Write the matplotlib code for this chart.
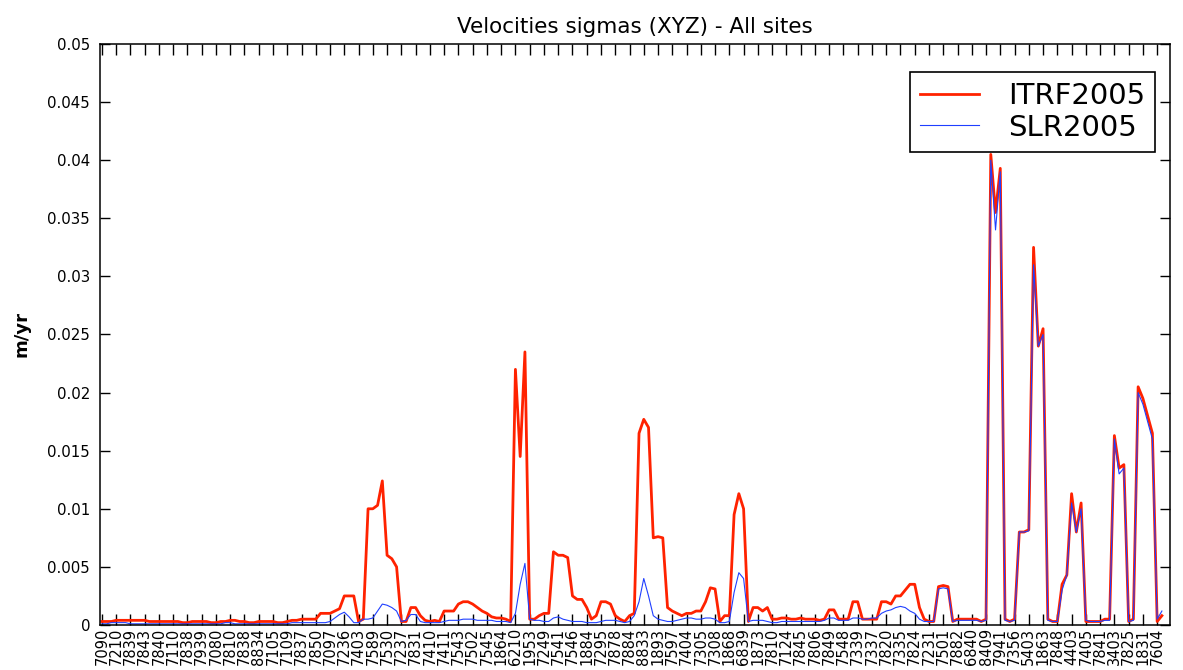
import matplotlib
matplotlib.use("Agg")
import matplotlib.pyplot as plt
import numpy as np

# site codes, one label per site (3 points per site: X, Y, Z)
sites = ["7090", "7210", "7839", "7843", "7840", "7110", "7838", "7939", "7080", "7810",
         "7838", "8834", "7105", "7109", "7837", "7850", "7097", "7236", "7403", "7589",
         "7530", "7237", "7831", "7410", "7411", "7543", "7502", "7545", "1864", "6210",
         "1953", "7249", "7541", "7546", "1884", "7295", "7878", "7884", "8833", "1893",
         "7597", "7404", "7305", "7308", "1868", "6839", "1873", "7810", "7124", "7845",
         "7806", "7849", "7548", "7339", "7337", "7820", "7335", "7824", "7231", "7501",
         "7882", "6840", "8409", "7941", "7356", "5403", "1863", "7848", "4403", "7405",
         "7841", "3403", "7825", "1831", "7604"]

itrf2005 = [
    0.0003, 0.0003, 0.0003, 0.0004, 0.0004, 0.0004, 0.0004, 0.0004, 0.0004, 0.0004, 0.0003, 0.0003, 0.0003, 0.0003, 0.0003,
    0.0003, 0.0003, 0.0002, 0.0002, 0.0003, 0.0003, 0.0003, 0.0003, 0.0002, 0.0002, 0.0003, 0.0003, 0.0004, 0.0004, 0.0003,
    0.0003, 0.0002, 0.0002, 0.0003, 0.0003, 0.0003, 0.0003, 0.0002, 0.0002, 0.0003, 0.0004, 0.0004, 0.0005, 0.0005, 0.0005,
    0.0005, 0.0010, 0.0010, 0.0010, 0.0012, 0.0014, 0.0025, 0.0025, 0.0025, 0.0003, 0.0005, 0.0100, 0.0100, 0.0103, 0.0124,
    0.0060, 0.0057, 0.0050, 0.0003, 0.0003, 0.0015, 0.0015, 0.0008, 0.0004, 0.0003, 0.0004, 0.0003, 0.0012, 0.0012, 0.0012,
    0.0018, 0.0020, 0.0020, 0.0018, 0.0015, 0.0012, 0.0010, 0.0007, 0.0006, 0.0006, 0.0005, 0.0003, 0.0220, 0.0145, 0.0235,
    0.0005, 0.0005, 0.0008, 0.0010, 0.0010, 0.0063, 0.0060, 0.0060, 0.0058, 0.0025, 0.0022, 0.0022, 0.0015, 0.0005, 0.0008,
    0.0020, 0.0020, 0.0018, 0.0008, 0.0005, 0.0003, 0.0008, 0.0010, 0.0165, 0.0177, 0.0170, 0.0075, 0.0076, 0.0075, 0.0015,
    0.0012, 0.0010, 0.0008, 0.0010, 0.0010, 0.0012, 0.0012, 0.0020, 0.0032, 0.0031, 0.0003, 0.0008, 0.0008, 0.0095, 0.0113,
    0.0100, 0.0003, 0.0015, 0.0015, 0.0012, 0.0015, 0.0005, 0.0005, 0.0006, 0.0006, 0.0005, 0.0005, 0.0006, 0.0005, 0.0005,
    0.0005, 0.0004, 0.0005, 0.0013, 0.0013, 0.0005, 0.0005, 0.0005, 0.0020, 0.0020, 0.0005, 0.0005, 0.0005, 0.0005, 0.0020,
    0.0020, 0.0018, 0.0025, 0.0025, 0.0030, 0.0035, 0.0035, 0.0015, 0.0005, 0.0003, 0.0003, 0.0033, 0.0034, 0.0033, 0.0003,
    0.0005, 0.0005, 0.0005, 0.0005, 0.0005, 0.0003, 0.0005, 0.0405, 0.0355, 0.0393, 0.0005, 0.0003, 0.0005, 0.0080, 0.0080,
    0.0082, 0.0325, 0.0240, 0.0255, 0.0005, 0.0003, 0.0003, 0.0035, 0.0043, 0.0113, 0.0080, 0.0105, 0.0003, 0.0003, 0.0003,
    0.0003, 0.0005, 0.0005, 0.0163, 0.0135, 0.0138, 0.0003, 0.0005, 0.0205, 0.0195, 0.0180, 0.0165, 0.0003, 0.0008,
]

slr2005 = [
    0.0001, 0.0001, 0.0002, 0.0002, 0.0002, 0.0002, 0.0001, 0.0001, 0.0001, 0.0001, 0.0001, 0.0001, 0.0001, 0.0001, 0.0001,
    0.0001, 0.0001, 0.0001, 0.0001, 0.0001, 0.0001, 0.0001, 0.0001, 0.0001, 0.0001, 0.0001, 0.0002, 0.0002, 0.0001, 0.0001,
    0.0001, 0.0001, 0.0001, 0.0001, 0.0001, 0.0001, 0.0001, 0.0001, 0.0001, 0.0001, 0.0002, 0.0002, 0.0002, 0.0002, 0.0002,
    0.0002, 0.0002, 0.0002, 0.0003, 0.0006, 0.0009, 0.0011, 0.0007, 0.0002, 0.0002, 0.0005, 0.0005, 0.0006, 0.0012, 0.0018,
    0.0017, 0.0015, 0.0012, 0.0003, 0.0004, 0.0009, 0.0009, 0.0003, 0.0002, 0.0002, 0.0002, 0.0002, 0.0003, 0.0004, 0.0004,
    0.0004, 0.0005, 0.0005, 0.0005, 0.0004, 0.0004, 0.0004, 0.0004, 0.0003, 0.0003, 0.0003, 0.0002, 0.0010, 0.0035, 0.0053,
    0.0005, 0.0004, 0.0004, 0.0003, 0.0003, 0.0006, 0.0007, 0.0005, 0.0004, 0.0003, 0.0003, 0.0003, 0.0002, 0.0002, 0.0002,
    0.0003, 0.0004, 0.0004, 0.0004, 0.0003, 0.0002, 0.0003, 0.0008, 0.0020, 0.0040, 0.0025, 0.0008, 0.0005, 0.0004, 0.0003,
    0.0003, 0.0004, 0.0005, 0.0006, 0.0006, 0.0005, 0.0005, 0.0006, 0.0006, 0.0005, 0.0002, 0.0002, 0.0003, 0.0028, 0.0045,
    0.0040, 0.0003, 0.0004, 0.0004, 0.0004, 0.0003, 0.0002, 0.0002, 0.0003, 0.0003, 0.0003, 0.0003, 0.0003, 0.0003, 0.0003,
    0.0003, 0.0003, 0.0004, 0.0006, 0.0006, 0.0004, 0.0004, 0.0004, 0.0006, 0.0006, 0.0005, 0.0005, 0.0006, 0.0006, 0.0010,
    0.0012, 0.0013, 0.0015, 0.0016, 0.0015, 0.0012, 0.0010, 0.0005, 0.0003, 0.0003, 0.0003, 0.0031, 0.0032, 0.0031, 0.0003,
    0.0004, 0.0004, 0.0004, 0.0004, 0.0004, 0.0003, 0.0004, 0.0400, 0.0340, 0.0390, 0.0004, 0.0003, 0.0004, 0.0080, 0.0080,
    0.0081, 0.0310, 0.0240, 0.0250, 0.0004, 0.0003, 0.0003, 0.0030, 0.0043, 0.0105, 0.0080, 0.0100, 0.0004, 0.0003, 0.0003,
    0.0003, 0.0004, 0.0004, 0.0160, 0.0130, 0.0135, 0.0003, 0.0004, 0.0200, 0.0190, 0.0175, 0.0160, 0.0005, 0.0012,
]

yticks = [0, 0.005, 0.01, 0.015, 0.02, 0.025, 0.03, 0.035, 0.04, 0.045, 0.05]
ytick_labels = ["0", "0.005", "0.01", "0.015", "0.02", "0.025", "0.03", "0.035", "0.04", "0.045", "0.05"]

plt.rcParams['font.family'] = ['DejaVu Sans']

fig = plt.figure(figsize=(11.83, 6.70), dpi=100)
ax = fig.add_axes([0.0845, 0.0672, 0.9045, 0.8671])

x = np.arange(len(itrf2005))
ax.plot(x, itrf2005, color='#ff2200', lw=2.0, label='ITRF2005')
ax.plot(x, slr2005, color='#1f3fff', lw=0.8, label='SLR2005')

ax.set_xlim(-0.4, 224.7)
ax.set_ylim(0, 0.05)
ax.set_xticks(np.arange(len(sites)) * 3)
ax.set_xticklabels(sites, rotation=90, fontsize=10.5)
ax.set_yticks(yticks)
ax.set_yticklabels(ytick_labels, fontsize=10.8)

ax.tick_params(axis='both', direction='in', top=True, right=True, width=1.0, colors='black')
ax.tick_params(axis='x', length=8, pad=2)
ax.tick_params(axis='y', length=7, pad=7)
for s in ax.spines.values():
    s.set_linewidth(1.1)

ax.set_title('Velocities sigmas (XYZ) - All sites', fontsize=15.5, pad=8)
ax.set_ylabel('m/yr', fontsize=13, fontweight='bold', labelpad=12)

leg = ax.legend(loc='upper right', bbox_to_anchor=(0.986, 0.952), borderaxespad=0,
                fontsize=21, fancybox=False, framealpha=1, edgecolor='black',
                handlelength=2.0, handletextpad=1.0, labelspacing=0.12, borderpad=0.35)
leg.get_frame().set_linewidth(1.2)

fig.savefig('out.png', dpi=100)
